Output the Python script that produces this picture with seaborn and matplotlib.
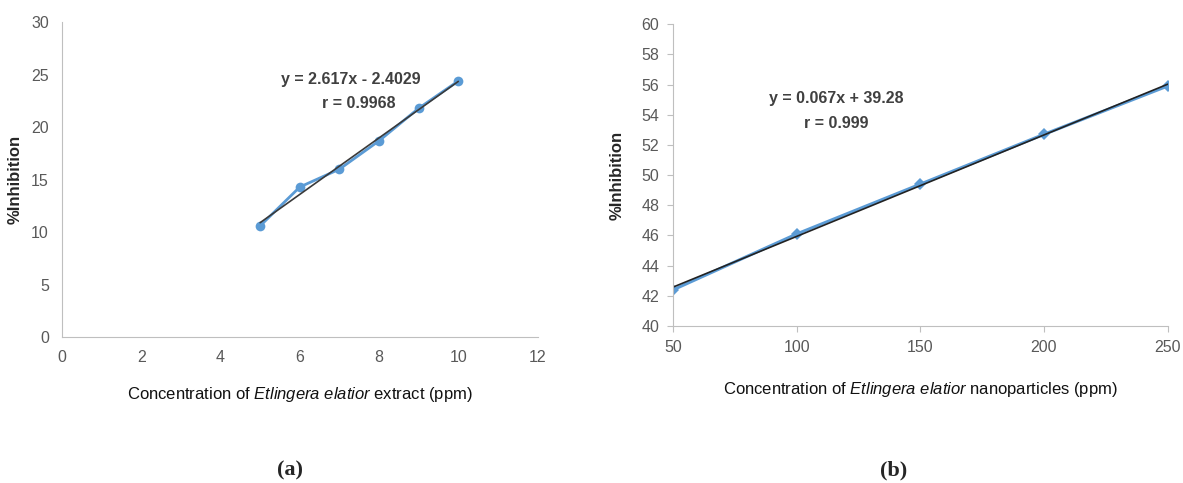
import numpy as np
import matplotlib
matplotlib.use("Agg")
import matplotlib.pyplot as plt
import seaborn as sns
import pandas as pd

# data
conc_extract = [5, 6, 7, 8, 9, 10]
inhib_extract = [10.6, 14.3, 16.0, 18.7, 21.8, 24.4]

conc_nano = [50, 100, 150, 200, 250]
inhib_nano = [42.4, 46.1, 49.4, 52.7, 55.9]

eq_extract = ["y = 2.617x - 2.4029", "r = 0.9968"]
eq_nano = ["y = 0.067x + 39.28", "r = 0.999"]

sns.set_style("white")
plt.rcParams['font.family'] = ['Liberation Sans', 'DejaVu Sans']
plt.rcParams['mathtext.fontset'] = 'custom'
plt.rcParams['mathtext.it'] = 'Liberation Sans:italic'
plt.rcParams['mathtext.rm'] = 'Liberation Sans'

blue = "#5B9BD5"
grey_txt = "#595959"
spine_c = "#BFBFBF"
eq_c = "#404040"

fig = plt.figure(figsize=(11.83, 4.83), dpi=100)
ax1 = fig.add_axes([0.0524, 0.302, 0.402, 0.652])
ax2 = fig.add_axes([0.569, 0.325, 0.418, 0.625])

df1 = pd.DataFrame({"x": conc_extract, "y": inhib_extract})
df2 = pd.DataFrame({"x": conc_nano, "y": inhib_nano})

# left panel: extract
sns.lineplot(data=df1, x="x", y="y", ax=ax1, color=blue, lw=2, marker="o",
             markersize=7, markeredgewidth=0)
sns.regplot(data=df1, x="x", y="y", ax=ax1, scatter=False, ci=None,
            line_kws={"color": "#3a3a3a", "lw": 1.2})
ax1.set_xlim(0, 12)
ax1.set_ylim(0, 30)
ax1.set_xticks(range(0, 13, 2))
ax1.set_yticks(range(0, 31, 5))
ax1.set_xlabel("Concentration of $\\it{Etlingera\\ elatior}$ extract (ppm)",
               fontsize=12, color="#111111", labelpad=14)
ax1.set_ylabel("%Inhibition", fontsize=12, fontweight="bold", labelpad=6)
ax1.text(7.3, 24.5, eq_extract[0], fontsize=11.5, fontweight="bold", color=eq_c,
         ha="center", va="center")
ax1.text(7.5, 22.3, eq_extract[1], fontsize=11.5, fontweight="bold", color=eq_c,
         ha="center", va="center")

# right panel: nanoparticles
sns.lineplot(data=df2, x="x", y="y", ax=ax2, color=blue, lw=2.2, marker="D",
             markersize=6, markeredgewidth=0)
sns.regplot(data=df2, x="x", y="y", ax=ax2, scatter=False, ci=None,
            line_kws={"color": "#222222", "lw": 1.2})
ax2.set_xlim(50, 250)
ax2.set_ylim(40, 60)
ax2.set_xticks(range(50, 251, 50))
ax2.set_yticks(range(40, 61, 2))
ax2.set_xlabel("Concentration of $\\it{Etlingera\\ elatior}$ nanoparticles (ppm)",
               fontsize=12, color="#111111", labelpad=18)
ax2.set_ylabel("%Inhibition", fontsize=12, fontweight="bold", labelpad=12)
ax2.text(116, 55.1, eq_nano[0], fontsize=11.5, fontweight="bold", color=eq_c,
         ha="center", va="center")
ax2.text(116, 53.4, eq_nano[1], fontsize=11.5, fontweight="bold", color=eq_c,
         ha="center", va="center")
ax2.tick_params(axis="both", length=4, color=spine_c, direction="out", left=True, bottom=True)

for ax in (ax1, ax2):
    sns.despine(ax=ax)
    ax.spines["left"].set_color(spine_c)
    ax.spines["bottom"].set_color(spine_c)
    ax.tick_params(labelsize=11.5, labelcolor=grey_txt, pad=6)

fig.text(0.245, 0.015, "(a)", fontsize=16, fontweight="bold", ha="center",
         family=['Liberation Serif', 'DejaVu Serif'])
fig.text(0.755, 0.015, "(b)", fontsize=16, fontweight="bold", ha="center",
         family=['Liberation Serif', 'DejaVu Serif'])

fig.savefig("out.png", dpi=100)
